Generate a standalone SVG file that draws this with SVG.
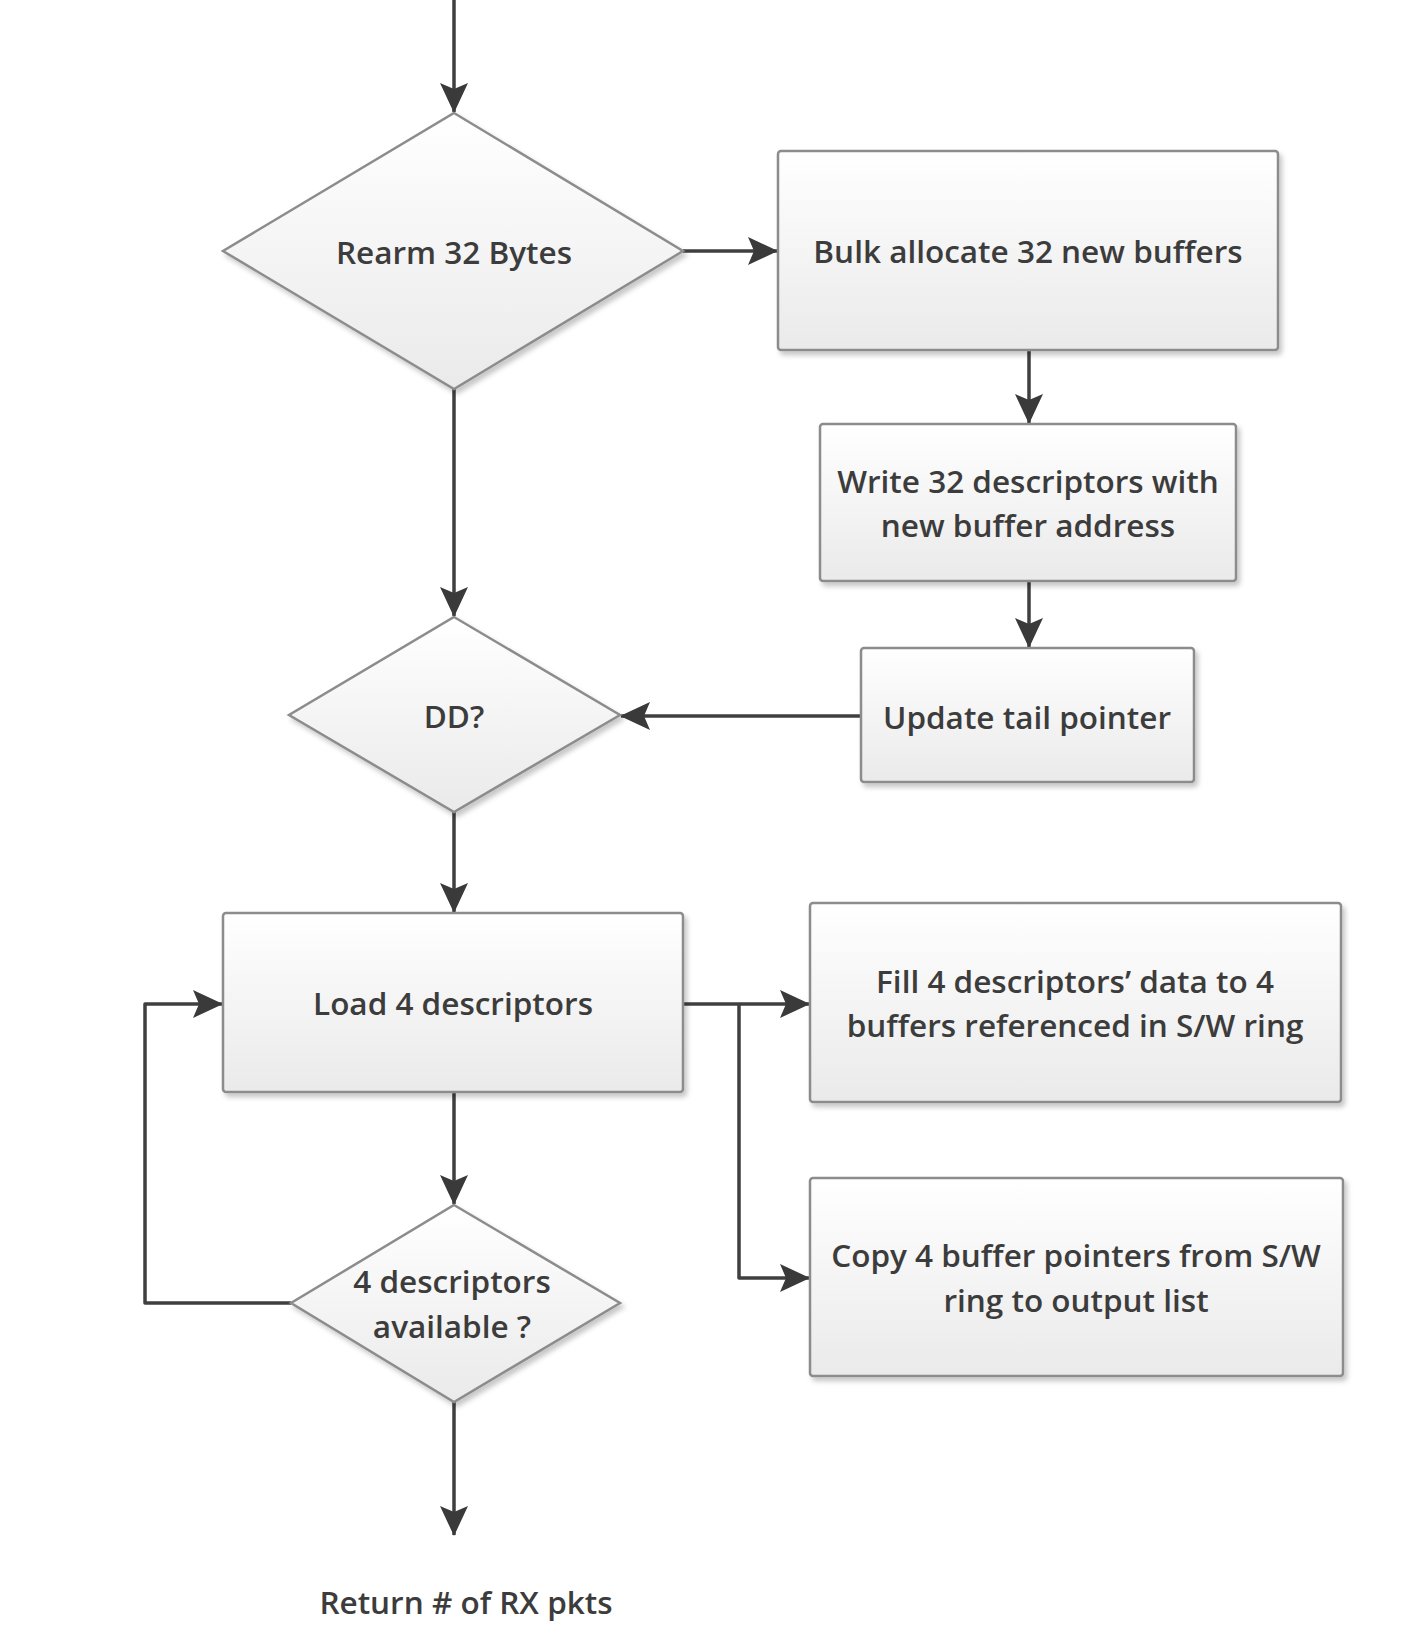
<svg xmlns="http://www.w3.org/2000/svg" width="1418" height="1648" viewBox="0 0 1418 1648">
<defs>
<linearGradient id="g" x1="0" y1="0" x2="0" y2="1">
<stop offset="0" stop-color="#ffffff"/>
<stop offset="1" stop-color="#eaeaea"/>
</linearGradient>
<filter id="sh" x="-10%" y="-10%" width="125%" height="130%">
<feDropShadow dx="3" dy="4" stdDeviation="2.5" flood-color="#000" flood-opacity="0.22"/>
</filter>
<marker id="ah" markerUnits="userSpaceOnUse" markerWidth="30" markerHeight="28" viewBox="0 0 30 28" refX="29" refY="14" orient="auto">
<path d="M0,0 L30,14 L0,28 L6,14 Z" fill="#3a3a3a"/>
</marker>
</defs>
<style>
.n{fill:url(#g);stroke:#8c8c8c;stroke-width:2.5;filter:url(#sh)}
.c{fill:none;stroke:#3f3f3f;stroke-width:3.5;stroke-linejoin:round}
.a{marker-end:url(#ah)}
text{font-family:"Open Sans","Noto Sans",sans-serif;font-size:31.5px;font-weight:600;fill:#3c3c3c;text-anchor:middle;dominant-baseline:central}
</style>
<rect width="1418" height="1648" fill="#ffffff"/>
<g id="connectors">
<path class="c a" d="M454,0 V112"/>
<path class="c a" d="M683,251 H777"/>
<path class="c a" d="M1029,350 V423"/>
<path class="c a" d="M1029,581 V647"/>
<path class="c a" d="M861,716 H621"/>
<path class="c a" d="M454,389 V616"/>
<path class="c a" d="M454,812 V912"/>
<path class="c a" d="M683,1004 H809"/>
<path class="c a" d="M739,1004 V1278 H809"/>
<path class="c a" d="M454,1092 V1204"/>
<path class="c a" d="M291,1303 H145 V1004 H222"/>
<path class="c a" d="M454,1402 V1535"/>
</g>
<g id="rearm">
<polygon class="n" points="454,113 683,251 454,389 223,251"/>
<text x="454" y="251">Rearm 32 Bytes</text>
</g>
<g id="bulk">
<rect class="n" x="778" y="151" width="500" height="199" rx="3"/>
<text x="1028" y="250">Bulk allocate 32 new buffers</text>
</g>
<g id="write">
<rect class="n" x="820" y="424" width="416" height="157" rx="3"/>
<text x="1028" y="480">Write 32 descriptors with</text>
<text x="1028" y="524">new buffer address</text>
</g>
<g id="update">
<rect class="n" x="861" y="648" width="333" height="134" rx="3"/>
<text x="1027" y="716">Update tail pointer</text>
</g>
<g id="dd">
<polygon class="n" points="454,617 620,715 454,812 289,715"/>
<text x="454" y="715">DD?</text>
</g>
<g id="load">
<rect class="n" x="223" y="913" width="460" height="179" rx="3"/>
<text x="453" y="1002">Load 4 descriptors</text>
</g>
<g id="fill">
<rect class="n" x="810" y="903" width="531" height="199" rx="3"/>
<text x="1075" y="980">Fill 4 descriptors’ data to 4</text>
<text x="1075" y="1024">buffers referenced in S/W ring</text>
</g>
<g id="copy">
<rect class="n" x="810" y="1178" width="533" height="198" rx="3"/>
<text x="1076" y="1254">Copy 4 buffer pointers from S/W</text>
<text x="1076" y="1299">ring to output list</text>
</g>
<g id="avail">
<polygon class="n" points="454,1205 620,1303 454,1402 291,1303"/>
<text x="452" y="1280">4 descriptors</text>
<text x="452" y="1325">available ?</text>
</g>
<g id="ret">
<text x="466" y="1601">Return # of RX pkts</text>
</g>
</svg>
